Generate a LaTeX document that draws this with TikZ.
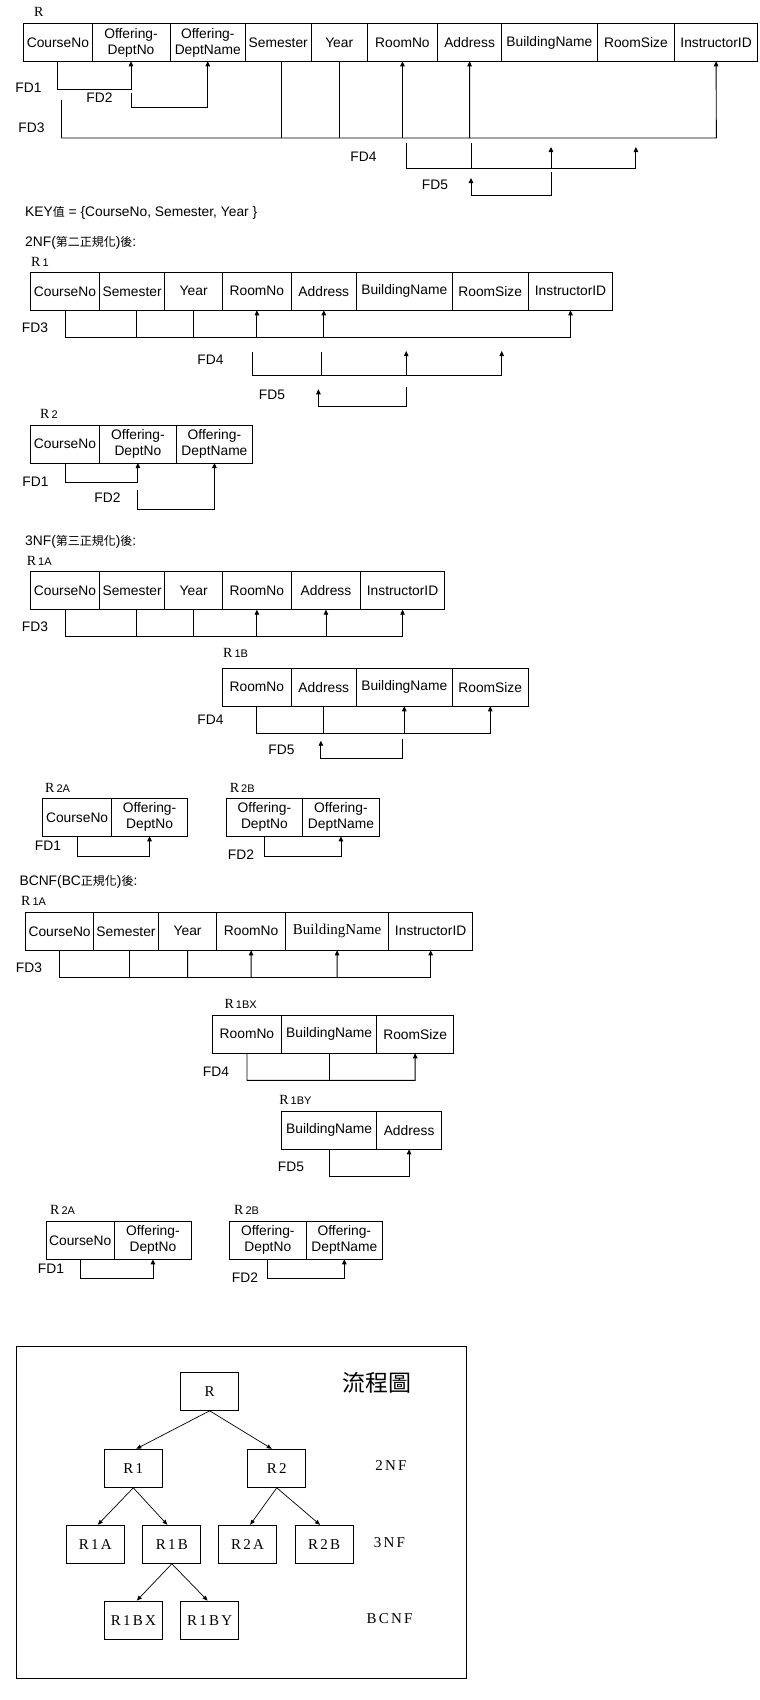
\documentclass[tikz,border=0pt]{standalone}
\usepackage{fontspec}
\setmainfont{Liberation Sans}
\newfontfamily\relfont{Liberation Serif}
\newfontfamily\cjkfont{Noto Sans CJK TC}
\newfontfamily\treefont[LetterSpace=15]{Liberation Serif}
\usetikzlibrary{arrows.meta}
\newcommand\cellfont{\fontsize{13.8}{16}\selectfont}
\newcommand\cjks{\cjkfont\fontsize{12}{14}\selectfont}
\newcommand\rlab[1]{{\relfont\fontsize{14}{16}\selectfont R}\hspace{2pt}{\fontsize{11}{13}\selectfont #1}}
\tikzset{
 cell/.style={draw, line width=1pt, anchor=north west, minimum height=38pt, inner sep=0pt, outer sep=0pt, align=center, font=\cellfont},
 txt/.style={inner sep=0pt, anchor=west, font=\cellfont},
 fdlab/.style={inner sep=0pt, anchor=center, font=\cellfont},
 fdl/.style={line width=0.9pt},
 fda/.style={line width=0.9pt, -{Triangle[length=5pt,width=4.5pt]}},
 tbox/.style={draw, line width=1pt, minimum width=58pt, minimum height=38pt, inner sep=0pt, font=\treefont\fontsize{15}{17}\selectfont},
 tlab/.style={inner sep=0pt, font=\treefont\fontsize{15}{17}\selectfont},
 tarr/.style={line width=0.7pt, -{Triangle[length=5pt,width=4pt]}},
}
\begin{document}
\begin{tikzpicture}[x=1pt,y=-1pt]
\useasboundingbox (0,0) rectangle (760,1700);
\fill[white] (0,0) rectangle (760,1700);

%% ---------- R ----------
\node[txt, anchor=center] (lR) at (38.8,12.3) {{\relfont\fontsize{14}{16}\selectfont R}};
\node[cell, minimum width=68.2pt, minimum height=37.5pt] (t0c1) at (23.8,23.8) {CourseNo};
\node[cell, minimum width=78pt, minimum height=37.5pt] (t0c2) at (92,23.8) {Offering-\\DeptNo};
\node[cell, minimum width=75.5pt, minimum height=37.5pt] (t0c3) at (170,23.8) {Offering-\\DeptName};
\node[cell, minimum width=65.5pt, minimum height=37.5pt] (t0c4) at (245.5,23.8) {Semester};
\node[cell, minimum width=56.4pt, minimum height=37.5pt] (t0c5) at (311,23.8) {Year};
\node[cell, minimum width=70.1pt, minimum height=37.5pt] (t0c6) at (367.4,23.8) {RoomNo};
\node[cell, minimum width=64.2pt, minimum height=37.5pt] (t0c7) at (437.5,23.8) {Address};
\node[cell, minimum width=95.4pt, minimum height=37.5pt] (t0c8) at (501.7,23.8) {BuildingName};
\node[cell, minimum width=77.6pt, minimum height=37.5pt] (t0c9) at (597.1,23.8) {RoomSize};
\node[cell, minimum width=82.8pt, minimum height=37.5pt] (t0c10) at (674.7,23.8) {InstructorID};
% FD1
\draw[fda] (t0c1.south) |- (131,89) -- (t0c2.south);
\node[fdlab] (t0l1) at (28.5,88) {FD1};
% FD2
\coordinate (t0f2) at (131,93);
\draw[fda] (t0f2) |- (207.75,107) -- (t0c3.south);
\node[fdlab] (t0l2) at (99.5,98) {FD2};
% FD3
\coordinate (t0f3) at (61.5,100);
\draw[fda] (t0f3) |- (716.35,138) -- (t0c10.south);
\draw[fdl] ([xshift=3.3pt]t0c4.south) -- (281.55,138);
\draw[fdl] (t0c5.south) -- (339.2,138);
\draw[fda] (402.45,138) -- (t0c6.south);
\draw[fda] (469.6,138) -- (t0c7.south);
\node[fdlab] (t0l3) at (31.5,128) {FD3};
% FD4
\coordinate (t0f4a) at (406,143);
\coordinate (t0f4b) at (471,143);
\coordinate (t0f4c) at (551,147);
\coordinate (t0f4d) at (635.9,147);
\draw[fdl] (t0f4a) |- (635.9,168);
\draw[fdl] (t0f4b) -- (471,168);
\draw[fda] (551,168) -- (t0f4c);
\draw[fda] (635.9,168) -- (t0f4d);
\node[fdlab] (t0l4) at (363.5,157) {FD4};
% FD5
\coordinate (t0f5a) at (471,178);
\coordinate (t0f5b) at (551,172);
\draw[fda] (t0f5b) |- (471,195) -- (t0f5a);
\node[fdlab] (t0l5) at (435,185) {FD5};

\node[txt] (key) at (25,213) {KEY{\cjks 值} = \{CourseNo, Semester, Year \}};
\node[txt] (h2nf) at (25,243) {2NF({\cjks 第二正規化}){\cjks 後}:};

%% ---------- R1 (2NF) ----------
\node[txt] (lR1) at (31,262) {\rlab{1}};
\node[cell, minimum width=68.9pt] (t1c1) at (30.5,272.3) {CourseNo};
\node[cell, minimum width=65.4pt] (t1c2) at (99.4,272.3) {Semester};
\node[cell, minimum width=57.7pt] (t1c3) at (164.8,272.3) {Year};
\node[cell, minimum width=68.8pt] (t1c4) at (222.5,272.3) {RoomNo};
\node[cell, minimum width=65pt] (t1c5) at (291.3,272.3) {Address};
\node[cell, minimum width=95.9pt] (t1c6) at (356.3,272.3) {BuildingName};
\node[cell, minimum width=76.1pt] (t1c7) at (452.2,272.3) {RoomSize};
\node[cell, minimum width=84.4pt] (t1c8) at (528.3,272.3) {InstructorID};
% FD3
\draw[fda] (t1c1.south) |- (570.5,337) -- (t1c8.south);
\draw[fdl] ([xshift=4.6pt]t1c2.south) -- (136.7,337);
\draw[fdl] (t1c3.south) -- (193.65,337);
\draw[fda] (256.9,337) -- (t1c4.south);
\draw[fda] (323.8,337) -- (t1c5.south);
\node[fdlab] (t1l3) at (35,328) {FD3};
% FD4
\coordinate (t1f4a) at (252.5,351.7);
\coordinate (t1f4b) at (321.4,351.7);
\coordinate (t1f4c) at (406.2,351);
\coordinate (t1f4d) at (501.7,351);
\draw[fdl] (t1f4a) |- (501.7,375);
\draw[fdl] (t1f4b) -- (321.4,375);
\draw[fda] (406.2,375) -- (t1f4c);
\draw[fda] (501.7,375) -- (t1f4d);
\node[fdlab] (t1l4) at (210.5,359.3) {FD4};
% FD5
\coordinate (t1f5a) at (318.4,389.3);
\coordinate (t1f5b) at (406.2,387);
\draw[fda] (t1f5b) |- (318.4,406) -- (t1f5a);
\node[fdlab] (t1l5) at (272,395) {FD5};

%% ---------- R2 (2NF) ----------
\node[txt] (lR2) at (40,414) {\rlab{2}};
\node[cell, minimum width=68.9pt] (t2c1) at (30.5,425) {CourseNo};
\node[cell, minimum width=77pt] (t2c2) at (99.4,425) {Offering-\\DeptNo};
\node[cell, minimum width=76.1pt] (t2c3) at (176.4,425) {Offering-\\DeptName};
\draw[fda] (t2c1.south) |- (137.9,482) -- (t2c2.south);
\node[fdlab] (t2l1) at (35.5,481.7) {FD1};
\coordinate (t2f2) at (137.9,490);
\draw[fda] (t2f2) |- (214.45,509.3) -- (t2c3.south);
\node[fdlab] (t2l2) at (107.5,498) {FD2};

\node[txt] (h3nf) at (25,542) {3NF({\cjks 第三正規化}){\cjks 後}:};

%% ---------- R1A (3NF) ----------
\node[txt] (lR1A) at (26.7,560.7) {\rlab{1A}};
\node[cell, minimum width=68.9pt] (t3c1) at (30.5,571.7) {CourseNo};
\node[cell, minimum width=65.4pt] (t3c2) at (99.4,571.7) {Semester};
\node[cell, minimum width=57.7pt] (t3c3) at (164.8,571.7) {Year};
\node[cell, minimum width=68.8pt] (t3c4) at (222.5,571.7) {RoomNo};
\node[cell, minimum width=69.3pt] (t3c5) at (291.3,571.7) {Address};
\node[cell, minimum width=83.9pt] (t3c6) at (360.6,571.7) {InstructorID};
\draw[fda] (t3c1.south) |- (402.55,636) -- (t3c6.south);
\draw[fdl] ([xshift=4.6pt]t3c2.south) -- (136.7,636);
\draw[fdl] (t3c3.south) -- (193.65,636);
\draw[fda] (256.9,636) -- (t3c4.south);
\draw[fda] (325.95,636) -- (t3c5.south);
\node[fdlab] (t3l3) at (35,626.7) {FD3};

%% ---------- R1B (3NF) ----------
\node[txt] (lR1B) at (223,653.3) {\rlab{1B}};
\node[cell, minimum width=68.8pt] (t4c1) at (222.5,668.3) {RoomNo};
\node[cell, minimum width=65pt] (t4c2) at (291.3,668.3) {Address};
\node[cell, minimum width=95.9pt] (t4c3) at (356.3,668.3) {BuildingName};
\node[cell, minimum width=76.1pt] (t4c4) at (452.2,668.3) {RoomSize};
\draw[fda] (t4c1.south) |- (490.25,733.3) -- (t4c4.south);
\draw[fdl] (t4c2.south) -- (323.8,733.3);
\draw[fda] (404.25,733.3) -- (t4c3.south);
\node[fdlab] (t4l4) at (210.5,719.3) {FD4};
\coordinate (t4f5a) at (320.9,740.7);
\coordinate (t4f5b) at (402.3,739);
\draw[fda] (t4f5b) |- (320.9,758) -- (t4f5a);
\node[fdlab] (t4l5) at (281.5,750) {FD5};

%% ---------- R2A / R2B (3NF) ----------
\node[txt] (lR2A) at (45,788.3) {\rlab{2A}};
\node[cell, minimum width=68.8pt] (t5c1) at (42.7,798.3) {CourseNo};
\node[cell, minimum width=76.1pt] (t5c2) at (111.5,798.3) {Offering-\\DeptNo};
\draw[fda] (t5c1.south) |- (149.55,856) -- (t5c2.south);
\node[fdlab] (t5l1) at (48,846) {FD1};

\node[txt] (lR2B) at (229.7,788.3) {\rlab{2B}};
\node[cell, minimum width=76pt] (t6c1) at (226.4,798.3) {Offering-\\DeptNo};
\node[cell, minimum width=77.1pt] (t6c2) at (302.4,798.3) {Offering-\\DeptName};
\draw[fda] (t6c1.south) |- (340.95,856) -- (t6c2.south);
\node[fdlab] (t6l2) at (241,855) {FD2};

\node[txt] (hbcnf) at (19.4,881.7) {BCNF(BC{\cjks 正規化}){\cjks 後}:};

%% ---------- R1A (BCNF) ----------
\node[txt] (lR1Ab) at (21,900.7) {\rlab{1A}};
\node[cell, minimum width=67.8pt] (t7c1) at (25.7,912.3) {CourseNo};
\node[cell, minimum width=65pt] (t7c2) at (93.5,912.3) {Semester};
\node[cell, minimum width=58.2pt] (t7c3) at (158.5,912.3) {Year};
\node[cell, minimum width=68.8pt] (t7c4) at (216.7,912.3) {RoomNo};
\node[cell, minimum width=103.2pt, font=\relfont\fontsize{15}{17}\selectfont] (t7c5) at (285.5,912.3) {BuildingName};
\node[cell, minimum width=83.9pt] (t7c6) at (388.7,912.3) {InstructorID};
\draw[fda] (t7c1.south) |- (430.65,977) -- (t7c6.south);
\draw[fdl] ([xshift=3.4pt]t7c2.south) -- (129.4,977);
\draw[fdl] (t7c3.south) -- (187.6,977);
\draw[fda] (251.1,977) -- (t7c4.south);
\draw[fda] (337.1,977) -- (t7c5.south);
\node[fdlab] (t7l3) at (29,967.7) {FD3};

%% ---------- R1BX ----------
\node[txt] (lR1BX) at (224.4,1004) {\rlab{1BX}};
\node[cell, minimum width=69.3pt] (t8c1) at (212.3,1015.3) {RoomNo};
\node[cell, minimum width=95pt] (t8c2) at (281.6,1015.3) {BuildingName};
\node[cell, minimum width=77.1pt] (t8c3) at (376.6,1015.3) {RoomSize};
\draw[fda] (t8c1.south) |- (415.15,1080.3) -- (t8c3.south);
\draw[fdl] (t8c2.south) -- (329.1,1080.3);
\node[fdlab] (t8l4) at (216,1071.7) {FD4};

%% ---------- R1BY ----------
\node[txt] (lR1BY) at (279.2,1100) {\rlab{1BY}};
\node[cell, minimum width=95pt] (t9c1) at (281.6,1111.3) {BuildingName};
\node[cell, minimum width=65pt] (t9c2) at (376.6,1111.3) {Address};
\draw[fda] (t9c1.south) |- (409.1,1176.3) -- (t9c2.south);
\node[fdlab] (t9l5) at (291,1166.7) {FD5};

%% ---------- R2A / R2B (BCNF) ----------
\node[txt] (lR2Ab) at (50,1210) {\rlab{2A}};
\node[cell, minimum width=68.4pt] (t10c1) at (46,1221.3) {CourseNo};
\node[cell, minimum width=77.1pt] (t10c2) at (114.4,1221.3) {Offering-\\DeptNo};
\draw[fda] (t10c1.south) |- (152.95,1278.3) -- (t10c2.south);
\node[fdlab] (t10l1) at (51,1268.3) {FD1};

\node[txt] (lR2Bb) at (234,1210) {\rlab{2B}};
\node[cell, minimum width=77pt] (t11c1) at (229.3,1221.3) {Offering-\\DeptNo};
\node[cell, minimum width=76.1pt] (t11c2) at (306.3,1221.3) {Offering-\\DeptName};
\draw[fda] (t11c1.south) |- (344.35,1278.3) -- (t11c2.south);
\node[fdlab] (t11l2) at (245,1277.3) {FD2};

%% ---------- Flow chart ----------
\draw[line width=1pt] (16,1346) rectangle (466.3,1678.3);
\node[inner sep=0pt] (ftitle) at (377,1382.7) {\cjkfont\fontsize{23}{26}\selectfont 流程圖};
\node[tbox] (fR) at (209.65,1391.3) {R};
\node[tbox] (fR1) at (133.3,1468.3) {R1};
\node[tbox] (fR2) at (276.8,1468.3) {R2};
\node[tbox] (fR1A) at (95.25,1544.3) {R1A};
\node[tbox] (fR1B) at (171.85,1544.3) {R1B};
\node[tbox] (fR2A) at (247.65,1544.3) {R2A};
\node[tbox] (fR2B) at (324.05,1544.3) {R2B};
\node[tbox] (fR1BX) at (133.3,1620.15) {R1BX};
\node[tbox] (fR1BY) at (209.65,1620.15) {R1BY};
\node[tlab] (f2nf) at (391,1465.7) {2NF};
\node[tlab] (f3nf) at (389.5,1542.3) {3NF};
\node[tlab] (fbcnf) at (389.5,1619) {BCNF};
\draw[tarr] (fR.south) -- ([xshift=3pt]fR1.north);
\draw[tarr] (fR.south) -- ([xshift=-5pt]fR2.north);
\draw[tarr] (fR1.south) -- ([xshift=2.5pt]fR1A.north);
\draw[tarr] (fR1.south) -- ([xshift=-4.5pt]fR1B.north);
\draw[tarr] (fR2.south) -- ([xshift=2.5pt]fR2A.north);
\draw[tarr] (fR2.south) -- ([xshift=-4pt]fR2B.north);
\draw[tarr] (fR1B.south) -- ([xshift=3.5pt]fR1BX.north);
\draw[tarr] (fR1B.south) -- ([xshift=-2pt]fR1BY.north);
\end{tikzpicture}
\end{document}
